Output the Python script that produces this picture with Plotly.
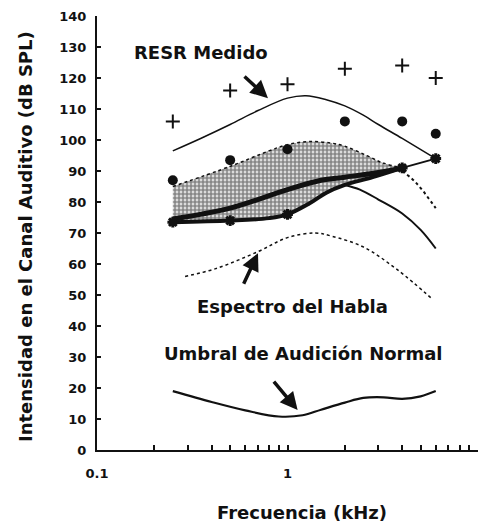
import numpy as np
import plotly.graph_objects as go

# ---------------- data ----------------
freq_meas = [0.25, 0.5, 1, 2, 4, 6]
resr_plus = [106, 116, 118, 123, 124, 120]
resr_dots = [87, 93.5, 97, 106, 106, 102]

freq_resr_curve = [0.25, 0.35, 0.5, 0.7, 1.0, 1.25, 1.6, 2.0, 2.5, 3.0, 4.0, 6.0]
resr_curve = [96.5, 100.5, 105, 109.5, 113.5, 114.3, 113, 111, 108, 105, 100.5, 94]

freq_band_top = [0.25, 0.5, 0.8, 1.0, 1.3, 1.7, 2.0, 2.6, 3.2, 4.0]
band_top = [85, 91.5, 96.5, 98.5, 99.5, 99, 98, 95, 92.5, 91]

freq_band_bottom = [0.25, 0.5, 0.8, 1.0, 1.3, 1.6, 2.0, 2.8, 4.0]
band_bottom = [73.5, 74, 74.8, 76, 79.5, 83, 85.5, 88, 91]

freq_band_mid = [0.25, 0.5, 1.0, 1.5, 2.0, 3.0, 4.0]
band_mid = [74.5, 78, 84, 87, 88, 89.5, 91]

freq_join = [4, 6]
join_vals = [91, 94]

freq_band_marks = [0.25, 0.5, 1, 4, 6]
band_marks = [73.5, 74, 76, 91, 94]

freq_lower_solid = [2.0, 2.4, 3.0, 4.0, 5.0, 6.0]
lower_solid = [85.5, 84, 80.8, 76.3, 71, 65]

freq_upper_dotted = [4.0, 4.5, 5.0, 6.0]
upper_dotted = [90, 87.5, 84.5, 78]

freq_lower_dotted = [0.29, 0.42, 0.7, 1.0, 1.4, 1.7, 2.5, 3.8, 5.8]
lower_dotted = [56, 58.5, 64, 68.5, 70, 69, 65.5, 58, 48.5]

freq_threshold = [0.25, 0.4, 0.6, 0.9, 1.2, 1.5, 2.0, 2.5, 3.2, 4.0, 5.0, 6.0]
threshold = [19, 15.5, 12.8, 10.8, 11.2, 13, 15.3, 16.8, 17, 16.5, 17.3, 19]

x_tickvals = [0.1, 0.2, 0.3, 0.4, 0.5, 0.6, 0.7, 0.8, 0.9, 1,
              2, 3, 4, 5, 6, 7, 8, 9, 10]
x_ticktext = ["0.1", "", "", "", "", "", "", "", "", "1",
              "", "", "", "", "", "", "", "", "10"]
y_tickvals = list(range(0, 141, 10))

FONT = "DejaVu Sans"
BLACK = "#111111"

fig = go.Figure()

# speech band (stippled area)
fig.add_trace(go.Scatter(
    x=freq_band_top + freq_band_bottom[::-1],
    y=band_top + band_bottom[::-1],
    mode="lines", fill="toself", line=dict(width=0, shape="spline"),
    fillcolor="rgba(0,0,0,0)",
    fillpattern=dict(shape=".", fgcolor=BLACK, bgcolor="white", size=4, solidity=0.75),
    hoverinfo="skip"))
# band top edge dotted
fig.add_trace(go.Scatter(x=freq_band_top, y=band_top, mode="lines",
                         line=dict(color=BLACK, width=1.5, dash="dot", shape="spline")))
# band bottom edge
fig.add_trace(go.Scatter(x=freq_band_bottom, y=band_bottom, mode="lines",
                         line=dict(color=BLACK, width=4, shape="spline")))
# dark mid line
fig.add_trace(go.Scatter(x=freq_band_mid, y=band_mid, mode="lines",
                         line=dict(color=BLACK, width=5, shape="spline")))
# join 4-6 kHz
fig.add_trace(go.Scatter(x=freq_join, y=join_vals, mode="lines",
                         line=dict(color=BLACK, width=2)))
fig.add_trace(go.Scatter(x=freq_band_marks, y=band_marks, mode="markers",
                         marker=dict(symbol="asterisk", size=9, color=BLACK,
                                     line=dict(width=3, color=BLACK))))
# lower solid continuation
fig.add_trace(go.Scatter(x=freq_lower_solid, y=lower_solid, mode="lines",
                         line=dict(color=BLACK, width=2, shape="spline")))
# upper dotted continuation
fig.add_trace(go.Scatter(x=freq_upper_dotted, y=upper_dotted, mode="lines",
                         line=dict(color=BLACK, width=2, dash="dot", shape="spline")))
# lower dotted curve
fig.add_trace(go.Scatter(x=freq_lower_dotted, y=lower_dotted, mode="lines",
                         line=dict(color=BLACK, width=1.5, dash="dot", shape="spline")))
# RESR curve
fig.add_trace(go.Scatter(x=freq_resr_curve, y=resr_curve, mode="lines",
                         line=dict(color=BLACK, width=1.5, shape="spline")))
# measured points
fig.add_trace(go.Scatter(x=freq_meas, y=resr_plus, mode="markers",
                         marker=dict(symbol="cross-thin", size=10, color=BLACK,
                                     line=dict(width=2, color=BLACK))))
fig.add_trace(go.Scatter(x=freq_meas, y=resr_dots, mode="markers",
                         marker=dict(symbol="circle", size=10, color=BLACK)))
# threshold
fig.add_trace(go.Scatter(x=freq_threshold, y=threshold, mode="lines",
                         line=dict(color=BLACK, width=2.2, shape="spline")))

tfont = dict(family=FONT, size=18, color=BLACK, weight="bold")
def label(text, x, y, **kw):
    return dict(text=text, xref="paper", yref="paper", x=x, y=y,
                xanchor="center", yanchor="middle", showarrow=False, font=tfont, **kw)

annotations = [
    label("RESR Medido", 0.273, 0.917),
    label("Espectro del Habla", 0.512, 0.33),
    label("Umbral de Audición Normal", 0.543, 0.2235),
    label("Frecuencia (kHz)", 0.538, -0.143),
    label("Intensidad en el Canal Auditivo (dB SPL)", -0.189, 0.493, textangle=-90),
    # arrows
    dict(x=np.log10(0.79), y=113.5, xref="x", yref="y", ax=-25, ay=-23, text="",
         showarrow=True, arrowhead=2, arrowsize=1, arrowwidth=3.5, arrowcolor=BLACK),
    dict(x=np.log10(0.70), y=63.5, xref="x", yref="y", ax=-15, ay=32, text="",
         showarrow=True, arrowhead=2, arrowsize=1, arrowwidth=3.5, arrowcolor=BLACK),
    dict(x=np.log10(1.13), y=12.9, xref="x", yref="y", ax=-25, ay=-30, text="",
         showarrow=True, arrowhead=2, arrowsize=1, arrowwidth=3.5, arrowcolor=BLACK),
]

fig.update_layout(
    width=486, height=522,
    margin=dict(l=97, r=8, t=16, b=72),
    paper_bgcolor="white", plot_bgcolor="white",
    showlegend=False,
    annotations=annotations,
    xaxis=dict(type="log", range=[-1, 1], showline=True, linecolor=BLACK, linewidth=2,
               ticks="inside", ticklen=5, tickwidth=1.5, tickcolor=BLACK,
               tickvals=x_tickvals, ticktext=x_ticktext, showgrid=False, zeroline=False,
               ticklabelstandoff=10,
               tickfont=dict(family=FONT, size=13, color=BLACK, weight="bold")),
    yaxis=dict(range=[0, 140], showline=True, linecolor=BLACK, linewidth=2,
               ticks="inside", ticklen=4, tickwidth=1.5, tickcolor=BLACK,
               tickvals=y_tickvals, showgrid=False, zeroline=False,
               ticklabelstandoff=6,
               tickfont=dict(family=FONT, size=13, color=BLACK, weight="bold")),
)

fig.write_html("out.html")
